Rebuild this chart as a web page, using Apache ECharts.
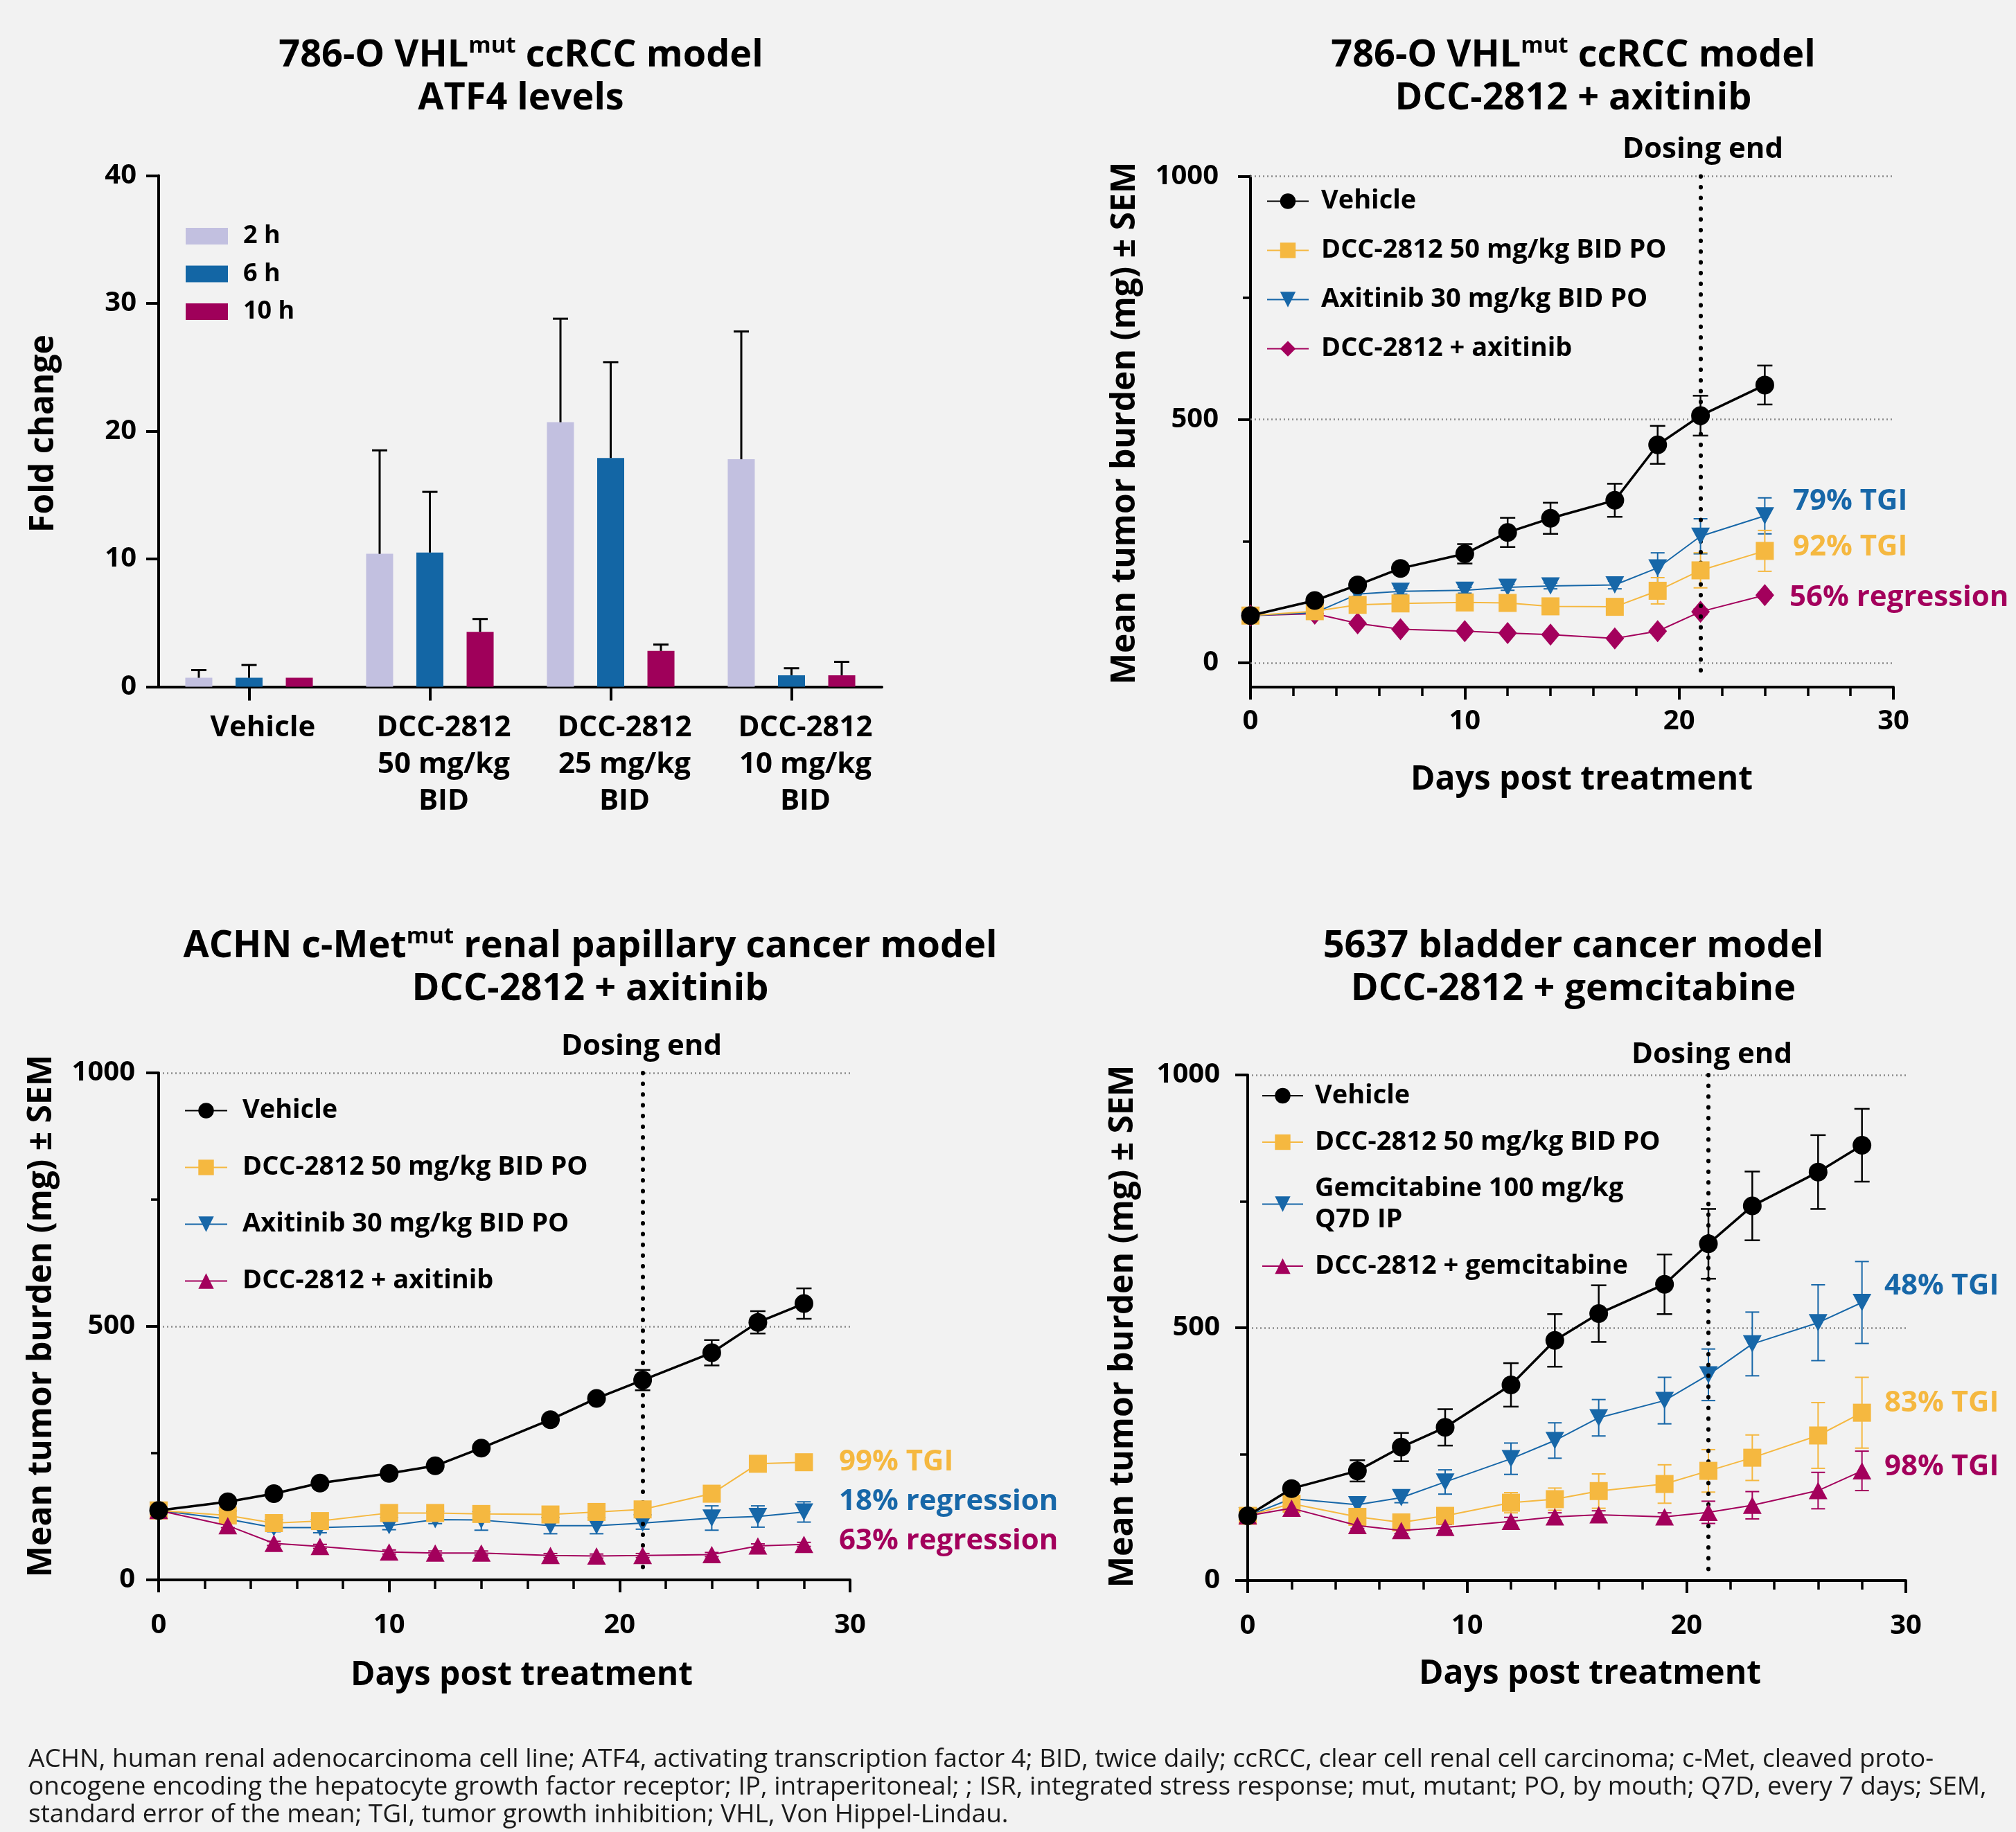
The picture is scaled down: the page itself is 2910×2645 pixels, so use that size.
<!DOCTYPE html>
<html><head><meta charset="utf-8">
<script src="https://cdn.jsdelivr.net/npm/echarts@6/dist/echarts.min.js"></script>
<style>
html,body{margin:0;padding:0;background:#f2f2f2;width:2910px;height:2645px;overflow:hidden;}
.c{position:absolute;left:0;top:0;width:2910px;height:2645px;}
</style></head><body>
<div id="c1" class="c"></div><div id="c2" class="c"></div><div id="c3" class="c"></div><div id="c4" class="c"></div>
<script>
// ---------------- DATA ----------------
// Panel A: ATF4 fold change
const atf4Categories = ['Vehicle', 'DCC-2812\n50 mg/kg\nBID', 'DCC-2812\n25 mg/kg\nBID', 'DCC-2812\n10 mg/kg\nBID'];
const atf4Legend = ['2 h', '6 h', '10 h'];
const atf4_2h = [0.7, 10.4, 20.7, 17.8];
const atf4_2hErr = [0.6, 8.1, 8.1, 10.0];
const atf4_6h = [0.7, 10.5, 17.9, 0.9];
const atf4_6hErr = [1.0, 4.75, 7.5, 0.55];
const atf4_10h = [0.7, 4.3, 2.8, 0.9];
const atf4_10hErr = [0, 1.0, 0.5, 1.05];
const atf4Ticks = [0, 10, 20, 30, 40];

// Panel B: 786-O DCC-2812 + axitinib
const days786 = [0, 3, 5, 7, 10, 12, 14, 17, 19, 21, 24];
const veh786 = [97, 128, 160, 194, 224, 268, 297, 334, 448, 508, 571];
const veh786Sem = [6, 8, 8, 7, 20, 30, 32, 34, 39, 41, 40];
const dcc786 = [97, 106, 119, 122, 124, 123, 116, 115, 148, 190, 230];
const dcc786Sem = [5, 5, 8, 8, 8, 8, 7, 8, 27, 36, 42];
const axi786 = [97, 103, 141, 147, 149, 155, 158, 160, 195, 260, 302];
const axi786Sem = [5, 5, 6, 6, 6, 6, 6, 8, 31, 36, 37];
const combo786 = [97, 101, 81, 69, 65, 61, 58, 50, 65, 105, 139];
const combo786Sem = [3, 3, 4, 4, 4, 4, 4, 4, 5, 6, 6];
const legend786 = ['Vehicle', 'DCC-2812 50 mg/kg BID PO', 'Axitinib 30 mg/kg BID PO', 'DCC-2812 + axitinib'];
const notes786 = ['79% TGI', '92% TGI', '56% regression'];

// Panel C: ACHN DCC-2812 + axitinib
const daysACHN = [0, 3, 5, 7, 10, 12, 14, 17, 19, 21, 24, 26, 28];
const vehACHN = [137, 154, 170, 191, 210, 225, 260, 316, 358, 394, 448, 508, 545];
const vehACHNSem = [8, 8, 8, 8, 8, 8, 8, 8, 8, 20, 25, 22, 30];
const dccACHN = [137, 127, 112, 116, 132, 132, 130, 129, 134, 139, 170, 229, 232];
const dccACHNSem = [6, 6, 6, 6, 6, 6, 6, 6, 6, 8, 8, 8, 8];
const axiACHN = [137, 120, 103, 103, 107, 119, 118, 107, 107, 112, 122, 125, 134];
const axiACHNSem = [6, 6, 8, 10, 8, 8, 20, 16, 16, 12, 24, 21, 20];
const comboACHN = [137, 107, 72, 66, 55, 53, 53, 48, 47, 48, 50, 67, 70];
const comboACHNSem = [4, 4, 4, 4, 4, 4, 4, 4, 4, 4, 4, 4, 4];
const legendACHN = ['Vehicle', 'DCC-2812 50 mg/kg BID PO', 'Axitinib 30 mg/kg BID PO', 'DCC-2812 + axitinib'];
const notesACHN = ['99% TGI', '18% regression', '63% regression'];

// Panel D: 5637 DCC-2812 + gemcitabine
const days5637 = [0, 2, 5, 7, 9, 12, 14, 16, 19, 21, 23, 26, 28];
const veh5637 = [128, 182, 217, 264, 303, 387, 475, 528, 586, 666, 741, 808, 861];
const veh5637Sem = [6, 8, 21, 28, 36, 43, 52, 56, 59, 69, 68, 73, 72];
const dcc5637 = [128, 152, 126, 115, 128, 154, 161, 177, 191, 217, 243, 287, 332];
const dcc5637Sem = [6, 6, 6, 8, 10, 20, 22, 34, 38, 42, 45, 65, 70];
const gem5637 = [128, 162, 150, 164, 195, 241, 277, 322, 356, 407, 468, 510, 550];
const gem5637Sem = [5, 8, 8, 10, 24, 31, 35, 36, 46, 51, 63, 75, 81];
const combo5637 = [128, 143, 109, 99, 105, 117, 126, 130, 126, 135, 149, 178, 217];
const combo5637Sem = [5, 6, 6, 6, 6, 8, 8, 8, 8, 22, 27, 36, 39];
const legend5637 = ['Vehicle', 'DCC-2812 50 mg/kg BID PO', 'Gemcitabine 100 mg/kg\nQ7D IP', 'DCC-2812 + gemcitabine'];
const notes5637 = ['48% TGI', '83% TGI', '98% TGI'];

const dosingDay = 21;
const xTicks = [0, 10, 20, 30];
const yTicks = [0, 500, 1000];

const footnote = 'ACHN, human renal adenocarcinoma cell line; ATF4, activating transcription factor 4; BID, twice daily; ccRCC, clear cell renal cell carcinoma; c-Met, cleaved proto-\noncogene encoding the hepatocyte growth factor receptor; IP, intraperitoneal; ; ISR, integrated stress response; mut, mutant; PO, by mouth; Q7D, every 7 days; SEM,\nstandard error of the mean; TGI, tumor growth inhibition; VHL, Von Hippel-Lindau.';

// ---------------- STYLE ----------------
const FONT = '"Open Sans", "Noto Sans", sans-serif';
const C_BLACK = '#000000', C_YEL = '#f5b840', C_BLU = '#1767a8', C_MAG = '#a3005c';
const C_LAV = '#c2c0e0', C_BBLU = '#1366a5', C_BMAG = '#9f005a';
const AX = {color: '#000', width: 4};
const DOWN_TRI = 'path://M0,0L10,0L5,9Z';
const GRID_DOT = {color: '#8a8a8a', width: 2.5, type: [2, 4]};
const DOSE_DOT = {color: '#000', width: 6, type: [0.5, 15], cap: 'round'};
const plain = function (v) { return String(v); };

function txt(x, y, text, size, opt) {
  opt = opt || {};
  return {type: 'text', x: x, y: y, rotation: opt.rot || 0, silent: true, z: 100,
    style: {text: text, fill: opt.color || '#000', fontFamily: FONT, fontWeight: opt.weight || 'bold',
      fontSize: size, align: opt.align || 'center', verticalAlign: opt.va || 'middle', lineHeight: opt.lh}};
}
function titleEl(x, y, pre, sup, post, line2) {
  const t = sup ? '{t|' + pre + '}{s|' + sup + '}{t|' + post + '}\n{t|' + line2 + '}' : '{t|' + pre + '}\n{t|' + line2 + '}';
  return {type: 'text', x: x, y: y, silent: true, z: 100,
    style: {text: t, align: 'center', verticalAlign: 'middle',
      rich: {t: {fontFamily: FONT, fontWeight: 'bold', fontSize: 54, lineHeight: 62, fill: '#000'},
             s: {fontFamily: FONT, fontWeight: 'bold', fontSize: 33, lineHeight: 34, verticalAlign: 'top', fill: '#000'}}}};
}
function errBars(days, vals, sems, color, lw, cap, z) {
  return {type: 'custom', silent: true, z: z, animation: false,
    data: days.map((d, i) => [d, vals[i], sems[i]]), encode: {x: 0, y: 1},
    renderItem: function (p, api) {
      const x = api.value(0), y = api.value(1), e = api.value(2);
      const lo = api.coord([x, y - e]), hi = api.coord([x, y + e]);
      const h = cap / 2, st = {stroke: color, lineWidth: lw};
      return {type: 'group', children: [
        {type: 'line', shape: {x1: lo[0], y1: lo[1], x2: hi[0], y2: hi[1]}, style: st},
        {type: 'line', shape: {x1: hi[0] - h, y1: hi[1], x2: hi[0] + h, y2: hi[1]}, style: st},
        {type: 'line', shape: {x1: lo[0] - h, y1: lo[1], x2: lo[0] + h, y2: lo[1]}, style: st}]};
    }};
}
function lineS(name, days, vals, color, symbol, size, lw, z, extra) {
  return Object.assign({type: 'line', name: name, z: z, animation: false,
    data: days.map((d, i) => [d, vals[i]]), symbol: symbol, symbolSize: size, showSymbol: true,
    lineStyle: {color: color, width: lw}, itemStyle: {color: color}, emphasis: {disabled: true}}, extra || {});
}
function xAxisCfg(margin) {
  return {type: 'value', min: 0, max: 30, interval: 10,
    axisLine: {show: true, onZero: false, lineStyle: AX},
    axisTick: {show: true, length: 18, lineStyle: AX, customValues: xTicks},
    minorTick: {show: true, splitNumber: 5, length: 13, lineStyle: {color: '#000', width: 3.5}},
    axisLabel: {fontFamily: FONT, fontWeight: 'bold', fontSize: 40, color: '#000', margin: margin, customValues: xTicks, formatter: plain},
    splitLine: {show: false}};
}
function legendCfg(left, top, gap, iw, pad, names) {
  return {orient: 'vertical', left: left, top: top, itemWidth: iw, itemHeight: 28, itemGap: gap, padding: 0,
    textStyle: {fontFamily: FONT, fontWeight: 'bold', fontSize: 38, color: '#000', lineHeight: 45, padding: [0, 0, 0, pad]},
    data: names};
}

// ---------------- PANEL A (bars) ----------------
const BAR_W = 39, BAR_STEP = 72.5;
function barErr(vals, errs, k) {
  return {type: 'custom', silent: true, z: 5, animation: false,
    data: vals.map((v, i) => [i, v, errs[i]]), encode: {x: 0, y: 1},
    renderItem: function (p, api) {
      const i = api.value(0), v = api.value(1), e = api.value(2);
      if (!e) return null;
      const a = api.coord([i, v]), b = api.coord([i, v + e]);
      const x = a[0] + (k - 1) * BAR_STEP, st = {stroke: '#000', lineWidth: 3};
      return {type: 'group', children: [
        {type: 'line', shape: {x1: x, y1: a[1], x2: x, y2: b[1]}, style: st},
        {type: 'line', shape: {x1: x - 11, y1: b[1], x2: x + 11, y2: b[1]}, style: st}]};
    }};
}
function bar(name, vals, color) {
  return {type: 'bar', name: name, data: vals, barWidth: BAR_W, barGap: '86%', itemStyle: {color: color}, z: 3, animation: false, emphasis: {disabled: true}};
}
const optA = {
  backgroundColor: 'transparent', animation: false,
  grid: {left: 229, top: 253.5, width: 1044, height: 738, containLabel: false, outerBoundsMode: 'none'},
  xAxis: {type: 'category', data: atf4Categories,
    axisLine: {show: true, lineStyle: AX}, axisTick: {show: true, alignWithLabel: true, length: 20, lineStyle: AX},
    axisLabel: {fontFamily: FONT, fontWeight: 'bold', fontSize: 42, color: '#000', lineHeight: 53, margin: 33, interval: 0, padding: [0, 0, 0, 40]}},
  yAxis: {type: 'value', min: 0, max: 40, interval: 10,
    axisLine: {show: true, lineStyle: AX}, axisTick: {show: true, length: 18, lineStyle: AX},
    axisLabel: {fontFamily: FONT, fontWeight: 'bold', fontSize: 40, color: '#000', margin: 32, customValues: atf4Ticks},
    splitLine: {show: false}},
  legend: {orient: 'vertical', left: 268, top: 321, itemWidth: 61, itemHeight: 24, itemGap: 14.5, padding: 0, icon: 'rect',
    textStyle: {fontFamily: FONT, fontWeight: 'bold', fontSize: 36, color: '#000', lineHeight: 40, padding: [0, 0, 0, 17]},
    data: atf4Legend},
  series: [bar(atf4Legend[0], atf4_2h, C_LAV), bar(atf4Legend[1], atf4_6h, C_BBLU), bar(atf4Legend[2], atf4_10h, C_BMAG),
    barErr(atf4_2h, atf4_2hErr, 0), barErr(atf4_6h, atf4_6hErr, 1), barErr(atf4_10h, atf4_10hErr, 2)],
  graphic: [
    titleEl(752, 112, '786-O VHL', 'mut', ' ccRCC model', 'ATF4 levels'),
    txt(63, 626, 'Fold change', 48, {rot: Math.PI / 2}),
    txt(41, 2520, footnote, 37, {align: 'left', va: 'top', weight: 'normal', lh: 40, color: '#1a1a1a'})
  ]
};

// ---------------- PANEL B (786-O) ----------------
const optB = {
  backgroundColor: 'transparent', animation: false,
  grid: {left: 1805, top: 254.6, width: 928, height: 737.4, containLabel: false, outerBoundsMode: 'none'},
  xAxis: xAxisCfg(30),
  yAxis: [
    {type: 'value', min: -50, max: 1000,
      axisLine: {show: true, onZero: false, lineStyle: AX},
      axisTick: {show: true, length: 18, lineStyle: AX, customValues: yTicks},
      axisLabel: {fontFamily: FONT, fontWeight: 'bold', fontSize: 40, color: '#000', margin: 46, customValues: yTicks, formatter: plain},
      splitLine: {show: false}},
    {type: 'value', min: -50, max: 1000, position: 'left',
      axisLine: {show: false}, axisTick: {show: true, length: 11, lineStyle: {color: '#000', width: 3.5}, customValues: [250, 750]},
      axisLabel: {show: false}, splitLine: {show: false}}],
  legend: legendCfg(1828, 268, 26, 60, 13, legend786),
  series: [
    errBars(days786, combo786, combo786Sem, C_MAG, 2, 20, 2),
    errBars(days786, axi786, axi786Sem, C_BLU, 2, 20, 2),
    errBars(days786, dcc786, dcc786Sem, C_YEL, 2, 20, 2),
    errBars(days786, veh786, veh786Sem, C_BLACK, 2.5, 22, 2),
    lineS(legend786[3], days786, combo786, C_MAG, 'diamond', [27, 32], 2, 4),
    lineS(legend786[2], days786, axi786, C_BLU, DOWN_TRI, [27, 25], 2, 5),
    lineS(legend786[1], days786, dcc786, C_YEL, 'rect', 26, 2, 6),
    lineS(legend786[0], days786, veh786, C_BLACK, 'circle', 27, 3.5, 7, {
      markLine: {silent: true, symbol: ['none', 'none'], label: {show: false}, animation: false, emphasis: {disabled: true},
        data: [{yAxis: 0, lineStyle: GRID_DOT}, {yAxis: 500, lineStyle: GRID_DOT}, {yAxis: 1000, lineStyle: GRID_DOT},
          [{coord: [dosingDay, 1000], lineStyle: DOSE_DOT}, {coord: [dosingDay, -35]}]]}})],
  graphic: [
    titleEl(2271, 112, '786-O VHL', 'mut', ' ccRCC model', 'DCC-2812 + axitinib'),
    txt(1624, 611, 'Mean tumor burden (mg) ± SEM', 48, {rot: Math.PI / 2}),
    txt(2283, 1126, 'Days post treatment', 48),
    txt(2458, 216, 'Dosing end', 42),
    txt(2588, 724, notes786[0], 42, {align: 'left', color: C_BLU}),
    txt(2588, 790, notes786[1], 42, {align: 'left', color: C_YEL}),
    txt(2583, 863, notes786[2], 42, {align: 'left', color: C_MAG})]
};

// ---------------- PANEL C (ACHN) ----------------
function yAxisBottom(margin) {
  return {type: 'value', min: 0, max: 1000, interval: 500,
    axisLine: {show: true, onZero: false, lineStyle: AX},
    axisTick: {show: true, length: 18, lineStyle: AX},
    minorTick: {show: true, splitNumber: 2, length: 11, lineStyle: {color: '#000', width: 3.5}},
    axisLabel: {fontFamily: FONT, fontWeight: 'bold', fontSize: 40, color: '#000', margin: margin, formatter: plain},
    splitLine: {show: true, lineStyle: GRID_DOT}};
}
const optC = {
  backgroundColor: 'transparent', animation: false,
  grid: {left: 229, top: 1549, width: 998, height: 732, containLabel: false, outerBoundsMode: 'none'},
  xAxis: xAxisCfg(46),
  yAxis: yAxisBottom(34),
  legend: legendCfg(266, 1581, 37, 61, 17, legendACHN),
  series: [
    errBars(daysACHN, comboACHN, comboACHNSem, C_MAG, 2, 20, 2),
    errBars(daysACHN, axiACHN, axiACHNSem, C_BLU, 2, 20, 2),
    errBars(daysACHN, dccACHN, dccACHNSem, C_YEL, 2, 20, 2),
    errBars(daysACHN, vehACHN, vehACHNSem, C_BLACK, 2.5, 22, 2),
    lineS(legendACHN[2], daysACHN, axiACHN, C_BLU, DOWN_TRI, [27, 25], 2, 4),
    lineS(legendACHN[1], daysACHN, dccACHN, C_YEL, 'rect', 26, 2, 5),
    lineS(legendACHN[3], daysACHN, comboACHN, C_MAG, 'triangle', [27, 25], 2, 6),
    lineS(legendACHN[0], daysACHN, vehACHN, C_BLACK, 'circle', 27, 3.5, 7, {
      markLine: {silent: true, symbol: ['none', 'none'], label: {show: false}, animation: false, emphasis: {disabled: true},
        data: [[{coord: [dosingDay, 1000], lineStyle: DOSE_DOT}, {coord: [dosingDay, 10]}]]}})],
  graphic: [
    titleEl(852, 1398, 'ACHN c-Met', 'mut', ' renal papillary cancer model', 'DCC-2812 + axitinib'),
    txt(60, 1900, 'Mean tumor burden (mg) ± SEM', 48, {rot: Math.PI / 2}),
    txt(753, 2419, 'Days post treatment', 48),
    txt(926, 1511, 'Dosing end', 42),
    txt(1211, 2111, notesACHN[0], 42, {align: 'left', color: C_YEL}),
    txt(1211, 2168, notesACHN[1], 42, {align: 'left', color: C_BLU}),
    txt(1211, 2225, notesACHN[2], 42, {align: 'left', color: C_MAG})]
};

// ---------------- PANEL D (5637) ----------------
const optD = {
  backgroundColor: 'transparent', animation: false,
  grid: {left: 1801, top: 1552, width: 950, height: 730, containLabel: false, outerBoundsMode: 'none'},
  xAxis: xAxisCfg(46),
  yAxis: yAxisBottom(40),
  legend: legendCfg(1821, 1559.5, 22, 59, 12, legend5637),
  series: [
    errBars(days5637, combo5637, combo5637Sem, C_MAG, 2, 20, 2),
    errBars(days5637, gem5637, gem5637Sem, C_BLU, 2, 20, 2),
    errBars(days5637, dcc5637, dcc5637Sem, C_YEL, 2, 20, 2),
    errBars(days5637, veh5637, veh5637Sem, C_BLACK, 2.5, 22, 2),
    lineS(legend5637[2], days5637, gem5637, C_BLU, DOWN_TRI, [27, 25], 2, 4),
    lineS(legend5637[1], days5637, dcc5637, C_YEL, 'rect', 26, 2, 5),
    lineS(legend5637[3], days5637, combo5637, C_MAG, 'triangle', [27, 25], 2, 6),
    lineS(legend5637[0], days5637, veh5637, C_BLACK, 'circle', 27, 3.5, 7, {
      markLine: {silent: true, symbol: ['none', 'none'], label: {show: false}, animation: false, emphasis: {disabled: true},
        data: [[{coord: [dosingDay, 1000], lineStyle: DOSE_DOT}, {coord: [dosingDay, 12]}]]}})],
  graphic: [
    titleEl(2271, 1398, '5637 bladder cancer model', null, null, 'DCC-2812 + gemcitabine'),
    txt(1621, 1915, 'Mean tumor burden (mg) ± SEM', 48, {rot: Math.PI / 2}),
    txt(2295, 2417, 'Days post treatment', 48),
    txt(2471, 1523, 'Dosing end', 42),
    txt(2720, 1857, notes5637[0], 42, {align: 'left', color: C_BLU}),
    txt(2720, 2026, notes5637[1], 42, {align: 'left', color: C_YEL}),
    txt(2720, 2118, notes5637[2], 42, {align: 'left', color: C_MAG})]
};

[['c1', optA], ['c2', optB], ['c3', optC], ['c4', optD]].forEach(function (p) {
  const ch = echarts.init(document.getElementById(p[0]), null, {renderer: 'canvas', width: 2910, height: 2645});
  ch.setOption(p[1]);
});
</script>
</body></html>
